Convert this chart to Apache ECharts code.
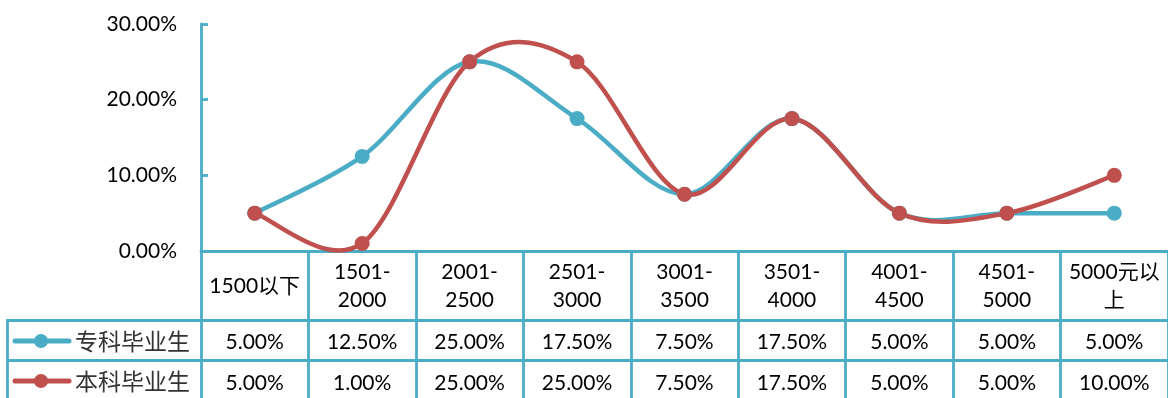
<!DOCTYPE html>
<html>
<head>
<meta charset="utf-8">
<script src="https://cdn.jsdelivr.net/npm/echarts@6/dist/echarts.min.js"></script>
<style>
html,body{margin:0;padding:0;background:#fff;}
#chart{width:1168px;height:398px;}
</style>
</head>
<body>
<div id="chart"></div>
<script>
// ---- data ----
var categories = ['1500以下', '1501-2000', '2001-2500', '2501-3000', '3001-3500', '3501-4000', '4001-4500', '4501-5000', '5000元以上'];
var seriesNames = ['专科毕业生', '本科毕业生'];
var zhuanke = [5, 12.5, 25, 17.5, 7.5, 17.5, 5, 5, 5];
var benke = [5, 1, 25, 25, 7.5, 17.5, 5, 5, 10];
var yTicks = [0, 10, 20, 30];

// ---- styles ----
var BLUE = '#4BACC6';
var RED = '#C0504D';
var FONT = 'Lato, "Noto Sans CJK SC", sans-serif';
var CJK = '"Noto Sans CJK SC", sans-serif';
var FS = 21;
var GRID_LEFT = 201, GRID_TOP = 24, AXIS_Y = 251;
var BORDER = 2.8;

function pct(v) { return v.toFixed(2) + '%'; }
function catLabel(s) {
  if (s.indexOf('-') >= 0) return s.replace('-', '-\n');
  if (s.indexOf('以上') >= 0) return s.replace('以上', '以\n上');
  return s;
}

// Excel-like smoothed line (Catmull-Rom bezier) drawn through the axes via api.coord
function smoothSeries(vals, color, name) {
  return {
    type: 'custom',
    name: name,
    clip: false,
    data: vals.map(function (v, i) { return [i, v]; }),
    renderItem: function (params, api) {
      var i = params.dataIndex;
      var n = vals.length;
      if (i >= n - 1) return null;
      function p(k) { k = Math.max(0, Math.min(n - 1, k)); return api.coord([k, vals[k]]); }
      var p0 = p(i - 1), p1 = p(i), p2 = p(i + 1), p3 = p(i + 2);
      var t = 1 / 6;
      return {
        type: 'bezierCurve',
        shape: {
          x1: p1[0], y1: p1[1], x2: p2[0], y2: p2[1],
          cpx1: p1[0] + (p2[0] - p0[0]) * t, cpy1: p1[1] + (p2[1] - p0[1]) * t,
          cpx2: p2[0] - (p3[0] - p1[0]) * t, cpy2: p2[1] - (p3[1] - p1[1]) * t
        },
        style: { stroke: color, lineWidth: 4.5, fill: null, lineCap: 'round' }
      };
    }
  };
}
function markerSeries(vals, color, name) {
  return {
    type: 'scatter', name: name, data: vals, symbol: 'circle', symbolSize: 15,
    itemStyle: { color: color, opacity: 1 }, clip: false
  };
}
function valueAxis(vals, margin) {
  return {
    type: 'category', gridIndex: 0, position: 'bottom',
    data: vals.map(pct), boundaryGap: true,
    axisLine: { show: false }, axisTick: { show: false }, splitLine: { show: false },
    axisLabel: { interval: 0, margin: margin, verticalAlign: 'middle', color: '#000', fontSize: FS, fontFamily: FONT }
  };
}
function legendCell(y, color, name) {
  return [
    { type: 'line', shape: { x1: 15, y1: y, x2: 69, y2: y }, style: { stroke: color, lineWidth: 5, lineCap: 'round' } },
    { type: 'circle', shape: { cx: 41, cy: y, r: 7 }, style: { fill: color } },
    { type: 'text', x: 75, y: y, style: { text: name, font: '23px ' + CJK, fill: '#333', verticalAlign: 'middle', align: 'left' } }
  ];
}

var chart = echarts.init(document.getElementById('chart'), null, { renderer: 'canvas' });
var W = 1168;
chart.setOption({
  animation: false,
  backgroundColor: '#fff',
  grid: { left: GRID_LEFT, top: GRID_TOP, right: W - (GRID_LEFT + 972), bottom: 398 - AXIS_Y, containLabel: false },
  xAxis: [
    {
      type: 'category', position: 'bottom', data: categories, boundaryGap: true,
      axisLine: { show: true, lineStyle: { color: BLUE, width: BORDER } },
      axisTick: { show: true, inside: false, length: 150, interval: 0, lineStyle: { color: BLUE, width: BORDER } },
      axisLabel: { interval: 0, margin: 35, verticalAlign: 'middle', lineHeight: 28, color: '#000', fontSize: FS, fontFamily: FONT, formatter: catLabel },
      splitLine: { show: false }
    },
    valueAxis(zhuanke, 91),
    valueAxis(benke, 132)
  ],
  yAxis: {
    type: 'value', min: yTicks[0], max: yTicks[yTicks.length - 1], interval: 10,
    axisLine: { show: true, lineStyle: { color: BLUE, width: BORDER } },
    axisTick: { show: true, inside: true, length: 7, lineStyle: { color: BLUE, width: BORDER } },
    axisLabel: { margin: 24, color: '#000', fontSize: FS, fontFamily: FONT, formatter: pct },
    splitLine: { show: false }
  },
  graphic: [
    { type: 'line', shape: { x1: 7, y1: 320.5, x2: W, y2: 320.5 }, style: { stroke: BLUE, lineWidth: BORDER } },
    { type: 'line', shape: { x1: 7, y1: 360.5, x2: W, y2: 360.5 }, style: { stroke: BLUE, lineWidth: BORDER } },
    { type: 'line', shape: { x1: 7.5, y1: 319.1, x2: 7.5, y2: 398 }, style: { stroke: BLUE, lineWidth: BORDER } }
  ].concat(legendCell(341, BLUE, seriesNames[0])).concat(legendCell(381, RED, seriesNames[1])),
  series: [
    smoothSeries(zhuanke, BLUE, seriesNames[0]),
    markerSeries(zhuanke, BLUE, seriesNames[0]),
    smoothSeries(benke, RED, seriesNames[1]),
    markerSeries(benke, RED, seriesNames[1])
  ]
});
</script>
</body>
</html>
